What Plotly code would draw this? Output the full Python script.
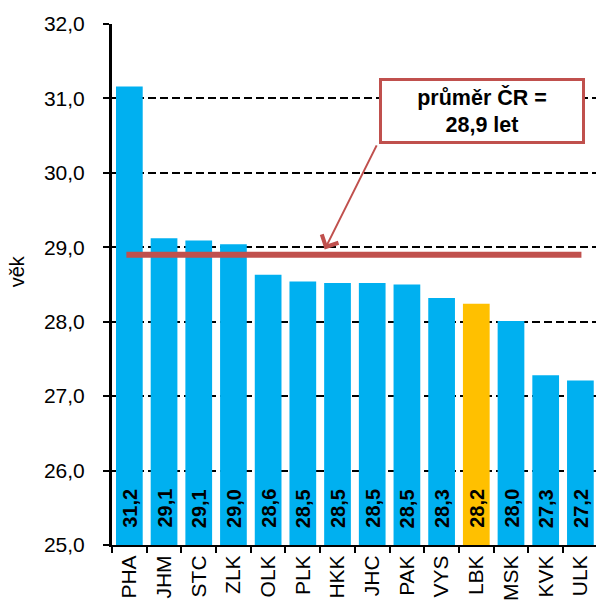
import plotly.graph_objects as go

# ---- data ----
regions = ["PHA", "JHM", "STC", "ZLK", "OLK", "PLK", "HKK", "JHC", "PAK", "VYS", "LBK", "MSK", "KVK", "ULK"]
ages = [31.16, 29.12, 29.09, 29.04, 28.63, 28.54, 28.52, 28.52, 28.50, 28.32, 28.24, 28.01, 27.28, 27.21]
highlight = "LBK"
cr_mean = 28.9
y_ticks = [25, 26, 27, 28, 29, 30, 31, 32]
y_min, y_max = 25, 32

BLUE = "#00B0F0"
GOLD = "#FFC000"
RED = "#C0504D"
FONT = "Arial, 'Liberation Sans', sans-serif"

colors = [GOLD if r == highlight else BLUE for r in regions]

fig = go.Figure()
fig.add_trace(go.Bar(
    x=regions, y=[a - y_min for a in ages], base=y_min,
    marker=dict(color=colors, line=dict(width=0)),
    hoverinfo="skip",
))

# value labels at bar bottoms
for r, a in zip(regions, ages):
    fig.add_annotation(xref="x", yref="y", x=r, y=y_min,
                       xanchor="center", yanchor="bottom", yshift=16,
                       text="<b>" + f"{a:.1f}".replace(".", ",") + "</b>",
                       textangle=-90, showarrow=False, borderpad=0,
                       font=dict(family=FONT, size=20, color="black"))

# mean line
fig.add_shape(type="line", xref="x", yref="y",
              x0=-0.085, x1=13.03, y0=cr_mean, y1=cr_mean,
              line=dict(color=RED, width=6), layer="above")

mean_txt = f"{cr_mean:.1f}".replace(".", ",")
# arrow
fig.add_annotation(xref="x", yref="y", x=5.63, y=28.97,
                   axref="x", ayref="y", ax=7.15, ay=30.39,
                   text="", showarrow=True, arrowhead=4, arrowsize=1.8,
                   arrowwidth=2, arrowcolor=RED, standoff=0, startstandoff=0)
# label box
fig.add_annotation(xref="paper", yref="paper", x=0.764, y=0.833,
                   xanchor="center", yanchor="middle",
                   text=f"<b>průměr ČR =<br>{mean_txt} let</b>",
                   showarrow=False, align="center",
                   font=dict(family=FONT, size=21.5, color="black"),
                   width=200, height=60, borderpad=0,
                   bordercolor=RED, borderwidth=3, bgcolor="white")
# y-axis title
fig.add_annotation(xref="paper", yref="paper", x=-0.197, y=0.5246,
                   xanchor="center", yanchor="middle", textangle=-90,
                   text="věk", showarrow=False,
                   font=dict(family=FONT, size=20, color="black"))

fig.update_layout(
    width=596, height=601,
    margin=dict(l=112, r=0, t=24, b=56, autoexpand=False),
    paper_bgcolor="white", plot_bgcolor="white",
    separators=", ",
    showlegend=False,
    bargap=0.23,
    font=dict(family=FONT, size=21, color="black"),
)
fig.update_xaxes(
    type="category", range=[-0.5, 13.45],
    showline=True, linecolor="black", linewidth=2,
    ticks="outside", tickson="boundaries", ticklen=6, tickwidth=2, tickcolor="black",
    tickangle=-90, tickfont=dict(size=21),
    showgrid=False, automargin=False,
)
fig.update_yaxes(
    range=[y_min, y_max], tickvals=y_ticks, tickformat=".1f",
    showline=True, linecolor="black", linewidth=3,
    ticks="outside", ticklen=6, tickwidth=2, tickcolor="black",
    tickfont=dict(size=21), ticklabelstandoff=14,
    showgrid=True, gridcolor="black", gridwidth=1.5, griddash="8px,4px",
    zeroline=False,
    automargin=False,
)

fig.write_html("out.html", config={"displayModeBar": False},
               post_script="document.body.style.margin='0';document.body.style.padding='0';")
